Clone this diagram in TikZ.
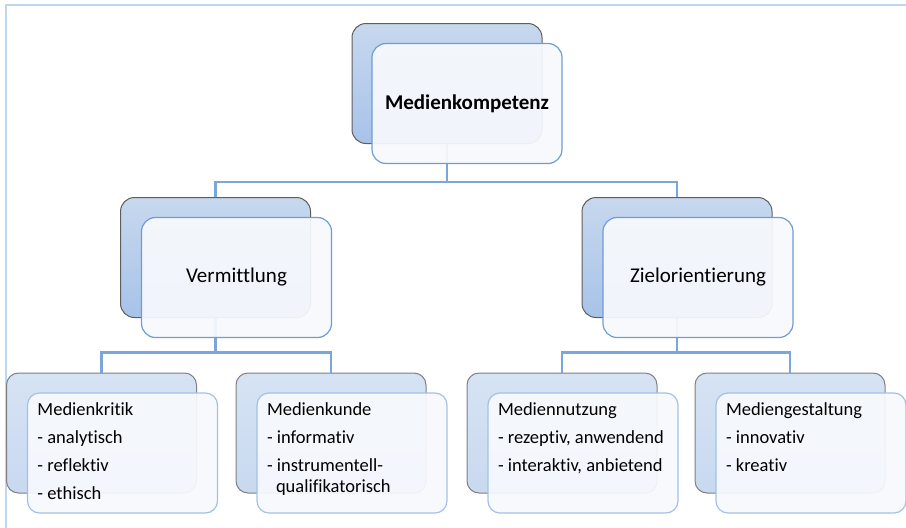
\documentclass[tikz,border=0pt]{standalone}
\usepackage{fontspec}
\setmainfont[Ligatures=NoCommon]{Carlito}
\usetikzlibrary{calc}
\definecolor{frameblue}{HTML}{BDD7EE}
\definecolor{backtop}{HTML}{C7D8EE}
\definecolor{backbot}{HTML}{A7C3E9}
\definecolor{backline}{HTML}{5E5E5E}
\definecolor{subtop}{HTML}{D6E3F4}
\definecolor{subbot}{HTML}{C8D9F0}
\definecolor{subline}{HTML}{808080}
\definecolor{frontfill}{HTML}{F7F9FD}
\definecolor{frontline}{HTML}{6E9CD6}
\definecolor{subfrontline}{HTML}{A3C1E7}
\definecolor{connblue}{HTML}{7BA6DA}

\begin{document}
\begin{tikzpicture}[x=1pt,y=-1pt,
    back/.style={draw=backline,line width=1pt,rounded corners=14pt,
        top color=backtop,bottom color=backbot,
        minimum width=190pt,minimum height=120pt,inner sep=0pt},
    backsub/.style={back,draw=subline,top color=subtop,bottom color=subbot,rounded corners=12pt},
    front/.style={draw=frontline,line width=1.2pt,rounded corners=14pt,
        fill=frontfill,fill opacity=0.93,text opacity=1,
        minimum width=190pt,minimum height=120pt,inner sep=0pt,
        font=\fontsize{21}{25}\selectfont},
    frontsub/.style={front,draw=subfrontline,rounded corners=12pt,
        font=\fontsize{18.5}{28}\selectfont},
    conn/.style={draw=connblue,line width=2.8pt}]
\useasboundingbox (0,0) rectangle (906,528);
%\draw[help lines,step=50] (0,0) grid (906,528);
\draw[frameblue,line width=2pt] (6,528) -- (6,5) -- (906,5);
% back boxes
\node[back] (mk) at (447,83.5) {};
\node[back] (vm) at (215.5,257.5) {};
\node[back] (zo) at (677,257.5) {};
\node[backsub] (kr) at (101.5,433) {};
\node[backsub] (ku) at (331,433) {};
\node[backsub] (nu) at (562,433) {};
\node[backsub] (ge) at (790,433) {};
% connectors
\draw[conn] (mk.south) -- ++(0,38) -| (vm.north);
\draw[conn] (mk.south) -- ++(0,38) -| (zo.north);
\draw[conn] (vm.south) -- ++(0,34.5) -| (kr.north);
\draw[conn] (vm.south) -- ++(0,34.5) -| (ku.north);
\draw[conn] (zo.south) -- ++(0,34.5) -| (nu.north);
\draw[conn] (zo.south) -- ++(0,34.5) -| (ge.north);
% front boxes
\node[front,font=\bfseries\fontsize{21}{25}\selectfont] (mkf) at ($(mk)+(20,20)$) {Medienkompetenz};
\node[front] (vmf) at ($(vm)+(21,20)$) {Vermittlung};
\node[front] (zof) at ($(zo)+(21,20)$) {Zielorientierung};
\node[frontsub] (krf) at ($(kr)+(21,20)$)
    {\parbox[c][120pt][t]{170pt}{\vspace*{10pt}Medienkritik\\- analytisch\\- reflektiv\\- ethisch}};
\node[frontsub] (kuf) at ($(ku)+(21,20)$)
    {\parbox[c][120pt][t]{170pt}{\vspace*{10pt}Medienkunde\\- informativ\\- instrumentell-\\[-7pt]\hspace*{9pt}qualifikatorisch}};
\node[frontsub] (nuf) at ($(nu)+(21,20)$)
    {\parbox[c][120pt][t]{170pt}{\vspace*{10pt}Mediennutzung\\- rezeptiv, anwendend\\- interaktiv, anbietend}};
\node[frontsub] (gef) at ($(ge)+(21,20)$)
    {\parbox[c][120pt][t]{170pt}{\vspace*{10pt}Mediengestaltung\\- innovativ\\- kreativ}};
\end{tikzpicture}
\end{document}
